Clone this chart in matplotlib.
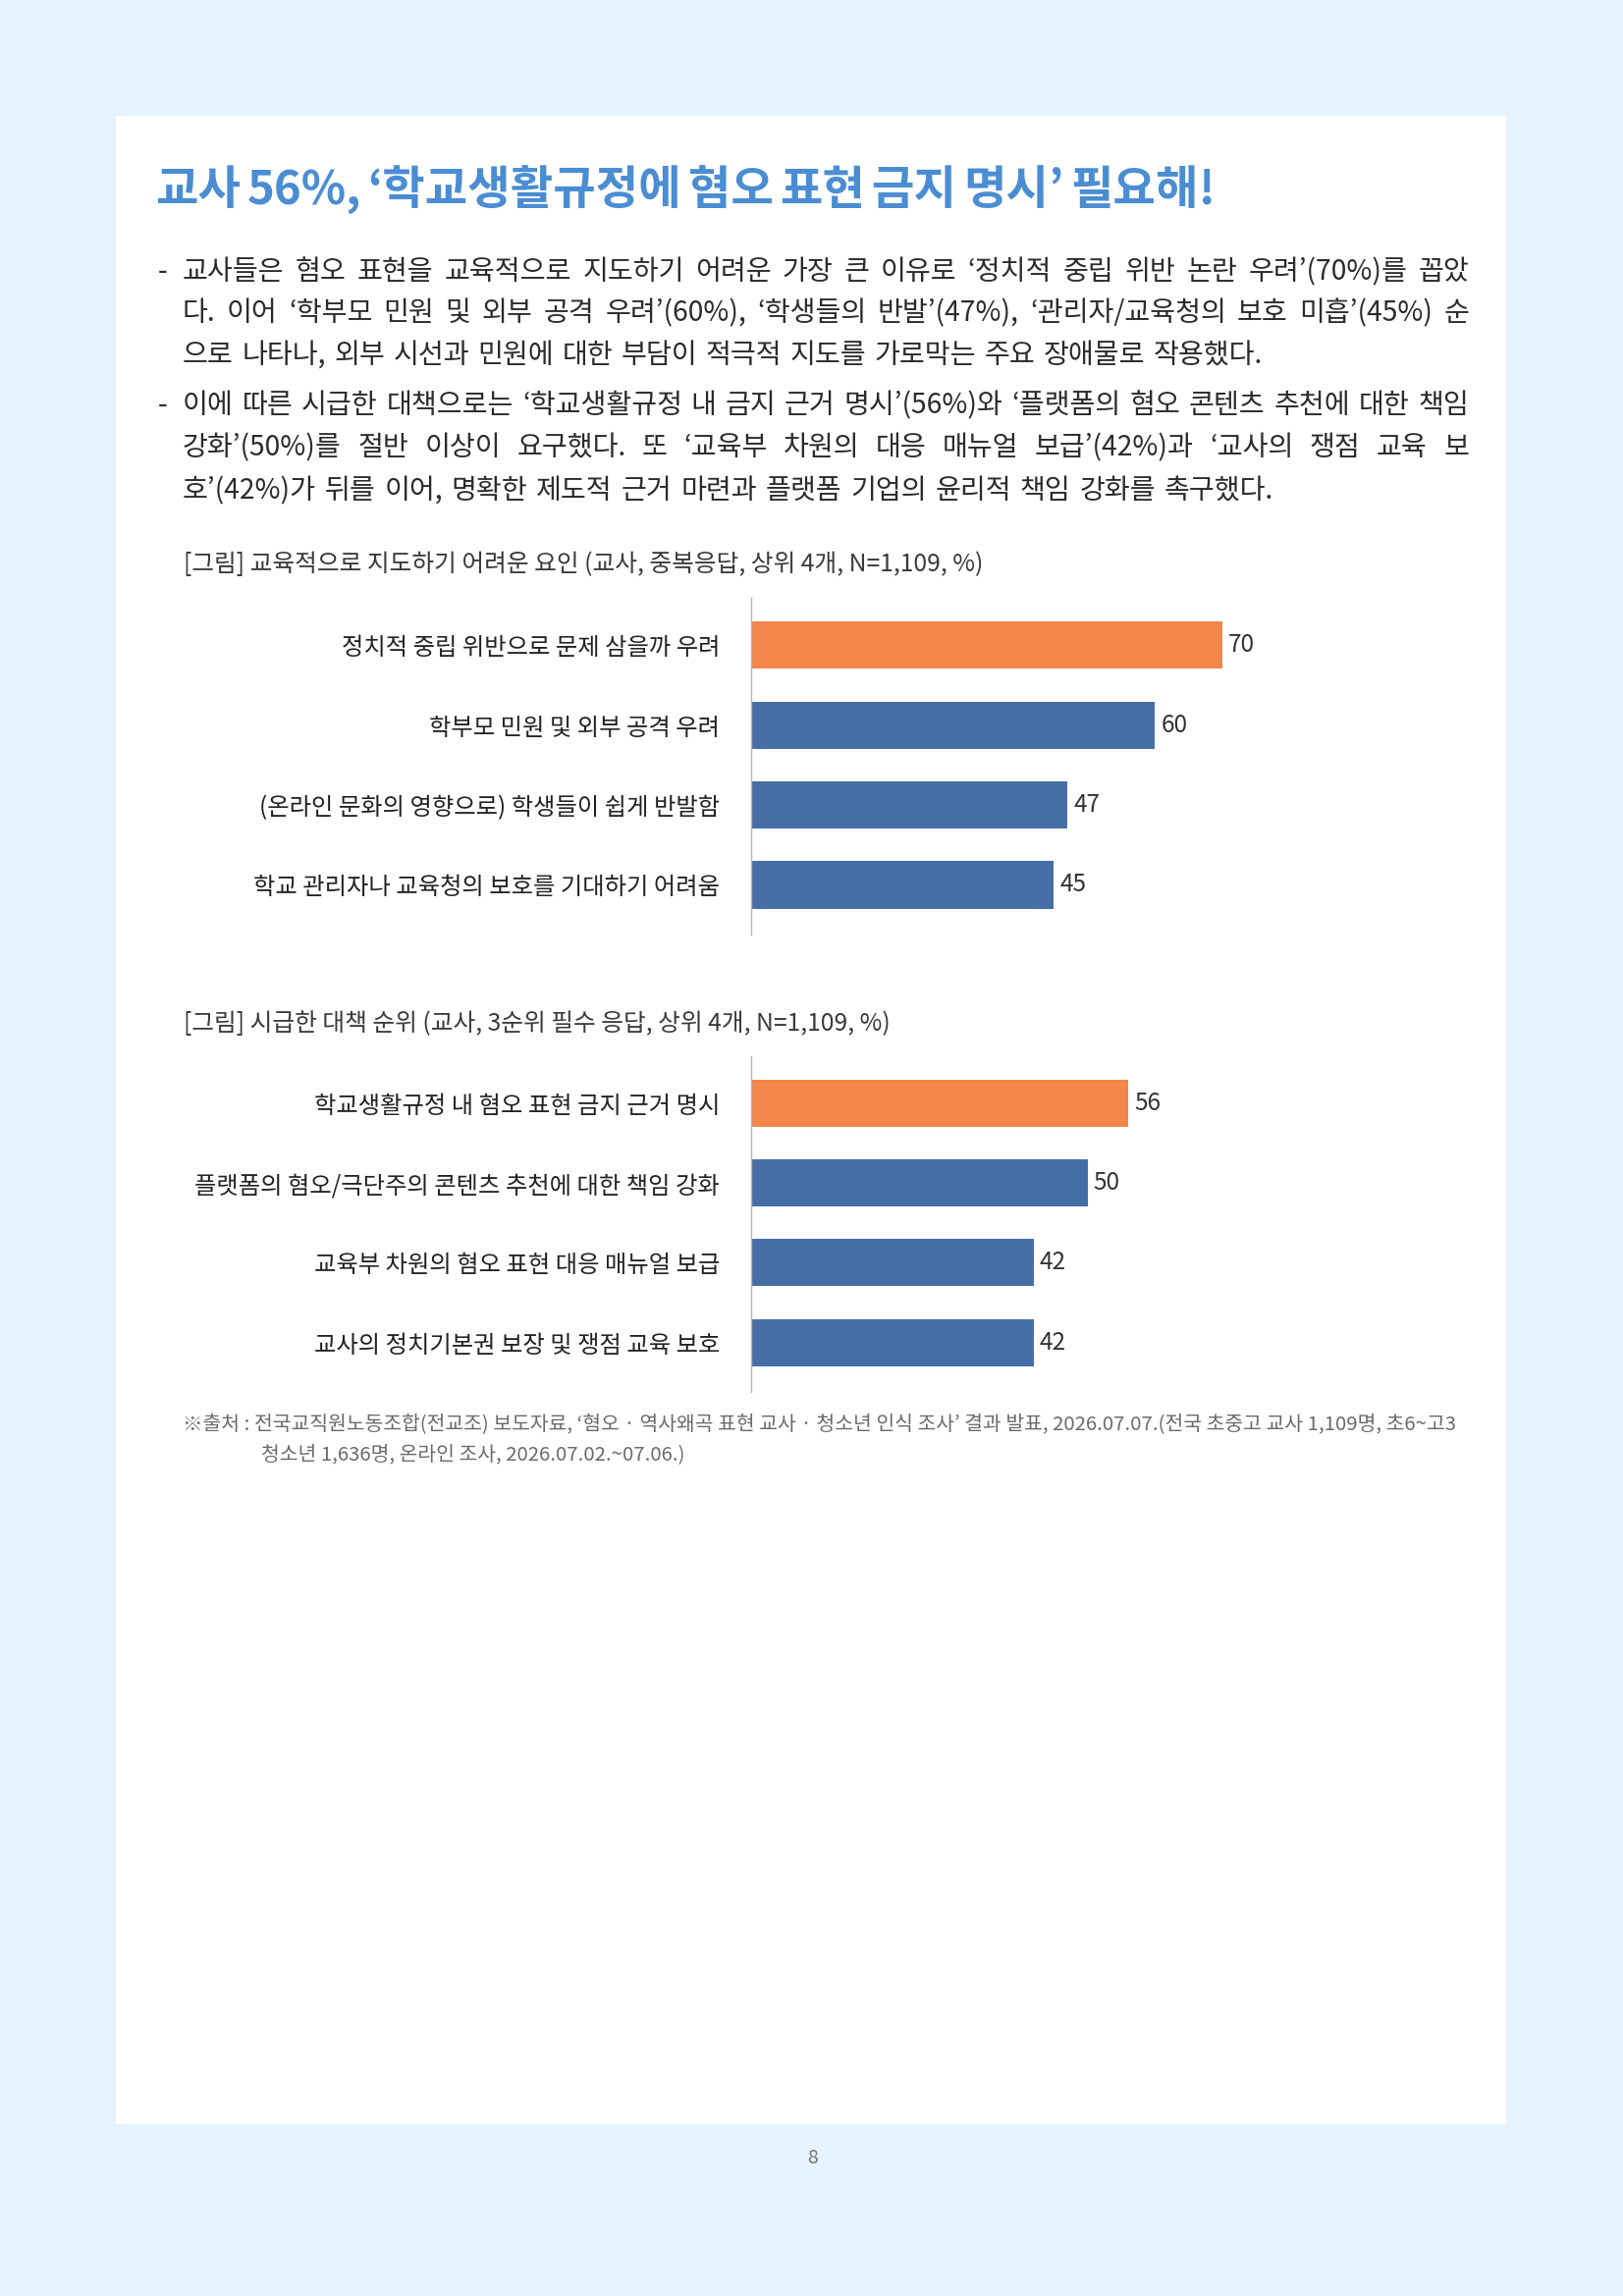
import matplotlib
matplotlib.use("Agg")
import matplotlib.pyplot as plt
from matplotlib.patches import Rectangle

plt.rcParams["font.family"] = ["Noto Sans CJK KR", "DejaVu Sans"]

# ── data ──────────────────────────────────────────────────────────────────────

TITLE = "교사 56%, ‘학교생활규정에 혐오 표현 금지 명시’ 필요해!"

PARA1 = [
    "교사들은 혐오 표현을 교육적으로 지도하기 어려운 가장 큰 이유로 ‘정치적 중립 위반 논란 우려’(70%)를 꼽았",
    "다. 이어 ‘학부모 민원 및 외부 공격 우려’(60%), ‘학생들의 반발’(47%), ‘관리자/교육청의 보호 미흡’(45%) 순",
    "으로 나타나, 외부 시선과 민원에 대한 부담이 적극적 지도를 가로막는 주요 장애물로 작용했다.",
]
PARA2 = [
    "이에 따른 시급한 대책으로는 ‘학교생활규정 내 금지 근거 명시’(56%)와 ‘플랫폼의 혐오 콘텐츠 추천에 대한 책임",
    "강화’(50%)를 절반 이상이 요구했다. 또 ‘교육부 차원의 대응 매뉴얼 보급’(42%)과 ‘교사의 쟁점 교육 보",
    "호’(42%)가 뒤를 이어, 명확한 제도적 근거 마련과 플랫폼 기업의 윤리적 책임 강화를 촉구했다.",
]

CAPTION1 = "[그림] 교육적으로 지도하기 어려운 요인 (교사, 중복응답, 상위 4개, N=1,109, %)"
LABELS1 = [
    "정치적 중립 위반으로 문제 삼을까 우려",
    "학부모 민원 및 외부 공격 우려",
    "(온라인 문화의 영향으로) 학생들이 쉽게 반발함",
    "학교 관리자나 교육청의 보호를 기대하기 어려움",
]
VALUES1 = [70, 60, 47, 45]

CAPTION2 = "[그림] 시급한 대책 순위 (교사, 3순위 필수 응답, 상위 4개, N=1,109, %)"
LABELS2 = [
    "학교생활규정 내 혐오 표현 금지 근거 명시",
    "플랫폼의 혐오/극단주의 콘텐츠 추천에 대한 책임 강화",
    "교육부 차원의 혐오 표현 대응 매뉴얼 보급",
    "교사의 정치기본권 보장 및 쟁점 교육 보호",
]
VALUES2 = [56, 50, 42, 42]

SOURCE = [
    "※출처 : 전국교직원노동조합(전교조) 보도자료, ‘혐오 · 역사왜곡 표현 교사 · 청소년 인식 조사’ 결과 발표, 2026.07.07.(전국 초중고 교사 1,109명, 초6~고3",
    "청소년 1,636명, 온라인 조사, 2026.07.02.~07.06.)",
]
PAGE_NO = "8"

# ── style ─────────────────────────────────────────────────────────────────────

W, H = 1653, 2339
DPI = 100
BG = "#E7F3FC"
TITLE_C = "#4A8DD3"
TEXT_C = "#2b2b2b"
ORANGE = "#F4864A"
BLUE = "#466EA6"


def fx(x):
    return x / W


def fy(y):
    return 1 - y / H


fig = plt.figure(figsize=(W / DPI, H / DPI), dpi=DPI, facecolor=BG)
fig.add_artist(Rectangle((fx(118), fy(2164)), fx(1534) - fx(118), fy(118) - fy(2164),
                         transform=fig.transFigure, facecolor="white", edgecolor="none",
                         zorder=0))
renderer = fig.canvas.get_renderer()


def spread_line(text, x0, x1, y, **kw):
    # words placed so the line runs from x0 to x1 (pixel coords)
    words = text.split(" ")
    arts = [fig.text(0, fy(y), w, ha="left", va="center", **kw) for w in words]
    widths = [a.get_window_extent(renderer).width for a in arts]
    gap = (x1 - x0 - sum(widths)) / max(len(words) - 1, 1)
    x = x0
    for a, w in zip(arts, widths):
        a.set_x(fx(x))
        x += w + gap


spread_line(TITLE, 158, 1238, 194, fontsize=34, fontweight="bold", color=TITLE_C)

body_kw = dict(fontsize=20.3, color=TEXT_C)
for para, ys, last_end in ((PARA1, (277, 319, 362), 1286), (PARA2, (413, 456, 500), 1297)):
    fig.text(fx(161), fy(ys[0]), "-", ha="left", va="center", **body_kw)
    for i, (line, y) in enumerate(zip(para, ys)):
        end = 1496 if i < len(para) - 1 else last_end
        spread_line(line, 186, end, y, **body_kw)


# ── bar charts ────────────────────────────────────────────────────────────────

def bar_panel(caption, cap_y, labels, values, top, bottom):
    fig.text(fx(187), fy(cap_y), caption, fontsize=17.8, color="#3a3a3a",
             ha="left", va="center")
    ax = fig.add_axes([fx(765), fy(bottom), fx(1450) - fx(765), fy(top) - fy(bottom)])
    ax.set_facecolor("none")
    colors = [ORANGE] + [BLUE] * (len(values) - 1)
    pos = list(range(len(values)))
    ax.barh(pos, values, height=0.59, color=colors, zorder=2)
    ax.set_xlim(0, 100)
    ax.set_ylim(3.62, -0.59)
    ax.set_yticks(pos)
    ax.set_yticklabels(labels, fontsize=17.5, color="#222222")
    ax.tick_params(axis="y", length=0, pad=23)
    ax.set_xticks([])
    for s in ("top", "right", "bottom"):
        ax.spines[s].set_visible(False)
    ax.spines["left"].set_color("#b5b5b5")
    ax.spines["left"].set_linewidth(1.0)
    for p, v in zip(pos, values):
        ax.annotate(str(v), xy=(v, p), xytext=(4.5, 0), textcoords="offset points",
                    ha="left", va="center", fontsize=17.5, color="#333333")
    return ax


bar_panel(CAPTION1, 575, LABELS1, VALUES1, 609, 952)
bar_panel(CAPTION2, 1043, LABELS2, VALUES2, 1076, 1418)

src_kw = dict(fontsize=14.7, color="#6a6a6a", ha="left", va="center")
fig.text(fx(186), fy(1452), SOURCE[0], **src_kw)
fig.text(fx(266), fy(1482), SOURCE[1], **src_kw)

fig.text(fx(828), fy(2199), PAGE_NO, fontsize=14, color="#777777", ha="center", va="center")

fig.savefig("out.png", dpi=DPI, facecolor=BG)
